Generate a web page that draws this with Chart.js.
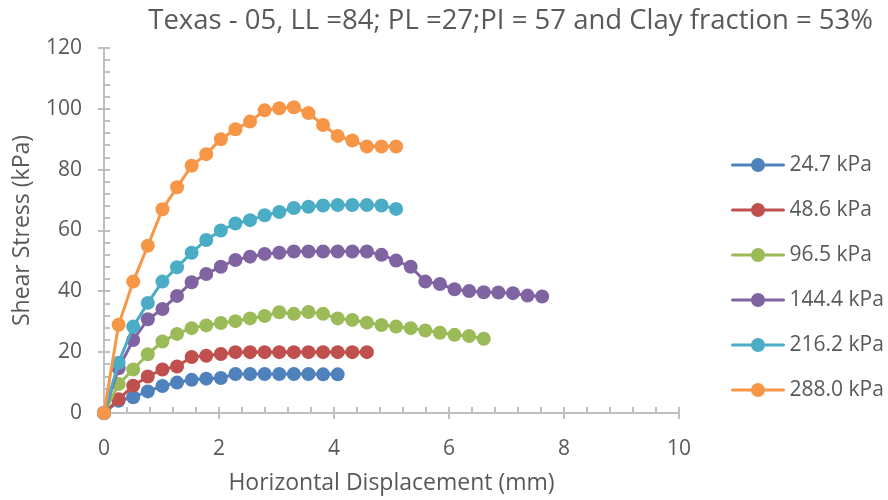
<!DOCTYPE html>
<html>
<head>
<meta charset="utf-8">
<script src="https://cdn.jsdelivr.net/npm/chart.js@4.4.1/dist/chart.umd.min.js"></script>
<style>
  html, body { margin: 0; padding: 0; background: #fff; }
  #wrap { width: 888px; height: 500px; }
</style>
</head>
<body>
<div id="wrap"><canvas id="chartShear" width="888" height="500"></canvas></div>
<script>
// Ensaio de cisalhamento direto - Texas 05
// Tensão cisalhante x deslocamento horizontal, uma série por tensão normal

const chartTitle = 'Texas - 05, LL =84; PL =27;PI = 57 and Clay fraction = 53%';

const displacement = [0, 0.254, 0.508, 0.762, 1.016, 1.27, 1.524, 1.778, 2.032, 2.286, 2.54,
    2.794, 3.048, 3.302, 3.556, 3.81, 4.064, 4.318, 4.572, 4.826, 5.08,
    5.334, 5.588, 5.842, 6.096, 6.35, 6.604, 6.858, 7.112, 7.366, 7.62];

const seriesLabels = ['24.7 kPa', '48.6 kPa', '96.5 kPa', '144.4 kPa', '216.2 kPa', '288.0 kPa'];

const shear247 = [0, 4.0, 5.2, 7.1, 8.9, 10.0, 10.9, 11.3, 11.5, 12.8, 12.8, 12.8, 12.8, 12.8, 12.8, 12.7, 12.7];
const shear486 = [0, 4.5, 9.0, 12.0, 14.3, 15.3, 18.4, 18.8, 19.4, 20.0, 20.0, 20.0, 20.0, 20.0, 20.0, 20.0, 20.0, 20.0, 20.0];
const shear965 = [0, 9.5, 14.3, 19.3, 23.5, 26.0, 27.9, 28.8, 29.6, 30.2, 31.1, 31.9, 33.1, 32.6, 33.2, 32.6,
    31.1, 30.6, 29.7, 28.9, 28.4, 27.9, 27.1, 26.4, 25.7, 25.3, 24.4];
const shear1444 = [0, 14.7, 24.0, 30.8, 34.2, 38.5, 43.0, 45.7, 48.1, 50.3, 51.4, 52.3, 52.7, 53.1, 53.1, 53.1,
    53.1, 53.1, 53.1, 52.0, 50.1, 48.1, 43.2, 42.4, 40.7, 40.1, 39.7, 39.6, 39.4, 38.6, 38.3];
const shear2162 = [0, 16.5, 28.4, 36.2, 43.2, 47.9, 52.7, 56.9, 60.0, 62.3, 63.4, 65.0, 66.1, 67.4, 67.8, 68.2,
    68.4, 68.4, 68.4, 68.2, 67.1];
const shear2880 = [0, 29.0, 43.2, 55.0, 67.0, 74.2, 81.3, 85.1, 90.0, 93.3, 95.8, 99.5, 100.2, 100.5, 98.6, 94.7,
    91.1, 89.6, 87.6, 87.6, 87.6];

const seriesValues = [shear247, shear486, shear965, shear1444, shear2162, shear2880];
const seriesColors = ['#4F81BD', '#C0504D', '#9BBB59', '#8064A2', '#4BACC6', '#F79646'];

const xTicks = [0, 2, 4, 6, 8, 10];
const yTicks = [0, 20, 40, 60, 80, 100, 120];

const FONT = "'Open Sans', sans-serif";
const TEXT_COLOR = '#595959';
const AXIS_COLOR = '#BFBFBF';

function toPoints(values) {
    return values.map((v, i) => ({ x: displacement[i], y: v }));
}

// simbolo da legenda: linha com marcador (estilo Excel)
function legendSymbol(color) {
    const c = document.createElement('canvas');
    c.width = 88;
    c.height = 16;
    const g = c.getContext('2d');
    g.strokeStyle = color;
    g.lineWidth = 3;
    g.lineCap = 'round';
    g.beginPath();
    g.moveTo(35.5, 8);
    g.lineTo(86.5, 8);
    g.stroke();
    g.fillStyle = color;
    g.beginPath();
    g.arc(61, 8, 7, 0, Math.PI * 2);
    g.fill();
    return c;
}

// eixos com marcas principais cruzando e secundárias para dentro
const axisTicks = {
    id: 'axisTicks',
    beforeDatasetsDraw(chart) {
        const { ctx, chartArea, scales } = chart;
        const { left, right, top, bottom } = chartArea;
        ctx.save();
        ctx.strokeStyle = AXIS_COLOR;
        ctx.lineWidth = 2;
        ctx.beginPath();
        ctx.moveTo(left, top);
        ctx.lineTo(left, bottom);
        ctx.moveTo(left, bottom);
        ctx.lineTo(right, bottom);
        for (let k = 0; k <= 30; k++) {
            const py = Math.round(scales.y.getPixelForValue(k * 4));
            const major = k % 5 === 0;
            ctx.moveTo(left - (major ? 6 : 0), py);
            ctx.lineTo(left + 6, py);
        }
        for (let k = 0; k <= 25; k++) {
            const px = Math.round(scales.x.getPixelForValue(k * 0.4));
            const major = k % 5 === 0;
            ctx.moveTo(px, bottom + (major ? 6 : 0));
            ctx.lineTo(px, bottom - 6);
        }
        ctx.stroke();
        ctx.restore();
    }
};

// título alinhado à direita, como no gráfico original
const titleText = {
    id: 'titleText',
    afterDraw(chart) {
        const c = chart.ctx;
        c.save();
        c.font = '27.5px ' + FONT;
        c.fillStyle = TEXT_COLOR;
        c.textAlign = 'right';
        c.textBaseline = 'middle';
        c.fillText(chartTitle, 873, 21);
        c.restore();
    }
};

const ctx = document.getElementById('chartShear').getContext('2d');

new Chart(ctx, {
    type: 'scatter',
    data: {
        datasets: seriesValues.map((values, i) => ({
            label: seriesLabels[i],
            data: toPoints(values),
            showLine: true,
            borderColor: seriesColors[i],
            backgroundColor: seriesColors[i],
            borderWidth: 3,
            pointRadius: 7,
            pointHoverRadius: 7,
            pointBorderWidth: 0,
            tension: 0,
            clip: false,
            order: seriesValues.length - 1 - i
        }))
    },
    options: {
        responsive: false,
        animation: false,
        layout: { padding: { left: 0, right: 0, top: 48, bottom: 0 } },
        scales: {
            x: {
                type: 'linear',
                min: 0,
                max: 10,
                afterBuildTicks: s => { s.ticks = xTicks.map(v => ({ value: v })); },
                afterFit: s => { s.height = 87; },
                grid: { display: false, drawTicks: false },
                border: { display: false },
                ticks: { color: TEXT_COLOR, padding: 23, font: { family: FONT, size: 21 } },
                title: {
                    display: true,
                    text: 'Horizontal Displacement (mm)',
                    color: TEXT_COLOR,
                    font: { family: FONT, size: 23 },
                    padding: { top: 0, bottom: 3 }
                }
            },
            y: {
                type: 'linear',
                min: 0,
                max: 120,
                afterBuildTicks: s => { s.ticks = yTicks.map(v => ({ value: v })); },
                afterFit: s => { s.width = 104; },
                grid: { display: false, drawTicks: false },
                border: { display: false },
                ticks: { color: TEXT_COLOR, padding: 22, font: { family: FONT, size: 21 } },
                title: {
                    display: true,
                    text: 'Shear Stress (kPa)',
                    color: TEXT_COLOR,
                    font: { family: FONT, size: 23 },
                    padding: { top: 9, bottom: 0 }
                }
            }
        },
        plugins: {
            title: { display: false },
            legend: {
                position: 'right',
                align: 'center',
                maxWidth: 209,
                // título vazio só para descer um pouco os itens
                title: { display: true, text: '', font: { size: 5 }, padding: { top: 1, bottom: 0 } },
                labels: {
                    usePointStyle: true,
                    pointStyleWidth: 76,
                    padding: 24,
                    color: TEXT_COLOR,
                    font: { family: FONT, size: 21 },
                    generateLabels: chart => chart.data.datasets.map((ds, i) => ({
                        text: ds.label,
                        pointStyle: legendSymbol(ds.borderColor),
                        fillStyle: ds.borderColor,
                        strokeStyle: ds.borderColor,
                        lineWidth: 0,
                        hidden: false,
                        datasetIndex: i,
                        fontColor: TEXT_COLOR
                    }))
                }
            },
            tooltip: { enabled: false }
        }
    },
    plugins: [axisTicks, titleText]
});
</script>
</body>
</html>
